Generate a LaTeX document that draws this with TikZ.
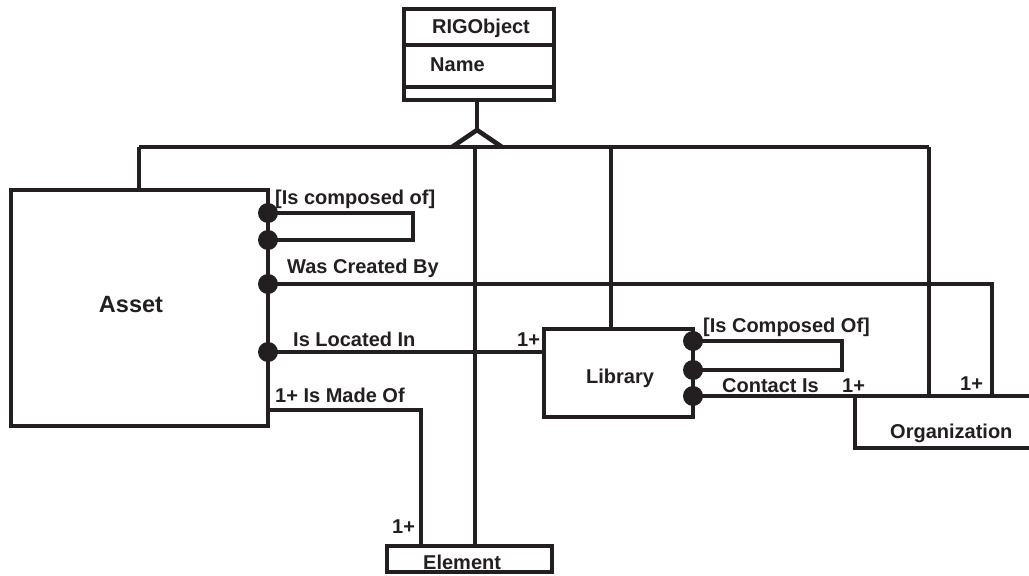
\documentclass[tikz,border=0pt]{standalone}
\usepackage{fontspec}
\setmainfont{Liberation Sans}
\definecolor{ink}{RGB}{35,31,32}
\begin{document}
\begin{tikzpicture}[x=1pt,y=-1pt,
  ln/.style={line width=4.6pt, draw=ink},
  box/.style={ln, rectangle, inner sep=0pt, outer sep=0pt, fill=white},
  lbl/.style={font=\fontsize{20}{24}\selectfont\bfseries, inner sep=0pt, anchor=base west, text=ink},
  dot/.style={circle, fill=ink, minimum size=20pt, inner sep=0pt}]
\useasboundingbox (0,0) rectangle (1029,576);

% classes
\node[box, minimum width=150pt, minimum height=91pt] (rig) at (479,54.5) {};
\draw[ln] (rig.west |- 0,45) -- (rig.east |- 0,45);
\draw[ln] (rig.west |- 0,87) -- (rig.east |- 0,87);
\node[lbl, anchor=base] (rigname) at (481,33) {RIGObject};
\node[lbl] (rigattr) at (430,71) {Name};

\node[box, minimum width=257pt, minimum height=236pt] (asset) at (139.5,308) {};
\node[font=\fontsize{23.5}{28}\selectfont\bfseries, inner sep=0pt, text=ink] (assetlbl) at (131,305) {Asset};

\node[box, minimum width=149pt, minimum height=88pt] (lib) at (618.5,373) {};
\node[lbl] (liblbl) at (586,383) {Library};

\node[box, minimum width=165pt, minimum height=26pt] (elem) at (469.5,559) {};
\node[lbl] (elemlbl) at (423,569) {Element};

\node[box, minimum width=182pt, minimum height=52pt] (org) at (946,422) {};
\node[lbl] (orglbl) at (890,438) {Organization};

% generalisation
\coordinate (apex) at (477,130);
\coordinate (tl) at (452,147);
\coordinate (tr) at (502,147);
\coordinate (barL) at (139,147);
\coordinate (barR) at (929,147);
\coordinate (barE) at (475,147);
\coordinate (barLib) at (611,147);
\draw[ln] (apex |- rig.south) -- (apex);
\draw[ln] (barL) -- (barR);
\draw[ln] (tl) -- (apex) -- (tr);
\draw[ln] (barL) -- (barL |- asset.north);
\draw[ln] (barE) -- (barE |- elem.north);
\draw[ln] (barLib) -- (barLib |- lib.north);
\draw[ln] (barR) -- (barR |- org.north);

% asset relationships
\coordinate (a1) at (asset.east |- 0,213);
\coordinate (a2) at (asset.east |- 0,240);
\coordinate (a3) at (asset.east |- 0,284);
\coordinate (a4) at (asset.east |- 0,352);
\coordinate (a5) at (asset.east |- 0,410);
\coordinate (wcx) at (992,0);
\coordinate (emx) at (421,0);
\draw[ln] (a1) -- ++(145,0) -- ++(0,27) -- (a2);
\draw[ln] (a3) -| (wcx |- org.north);
\draw[ln] (a4) -- (a4 -| lib.west);
\draw[ln] (a5) -| (emx |- elem.north);

% library relationships
\coordinate (l1) at (lib.east |- 0,341);
\coordinate (l2) at (lib.east |- 0,370);
\coordinate (l3) at (lib.east |- 0,396);
\draw[ln] (l1) -- ++(149,0) -- ++(0,29) -- (l2);
\draw[ln] (l3) -- (l3 -| org.west);

% dots
\foreach \p in {a1,a2,a3,a4,l1,l2,l3} \node[dot] at (\p) {};

% labels
\node[lbl] (lc1) at (275,204) {[Is composed of]};
\node[lbl] (lwc) at (287,273) {Was Created By};
\node[lbl] (lli) at (293,346) {Is Located In};
\node[lbl] (lmo) at (275,402) {1+ Is Made Of};
\node[lbl] (lm1) at (392,533) {1+};
\node[lbl] (ll1) at (517,346) {1+};
\node[lbl] (lc2) at (703,332) {[Is Composed Of]};
\node[lbl] (lci) at (722,392) {Contact Is};
\node[lbl] (lo1) at (842,392) {1+};
\node[lbl] (lo2) at (960,390) {1+};
\end{tikzpicture}
\end{document}
